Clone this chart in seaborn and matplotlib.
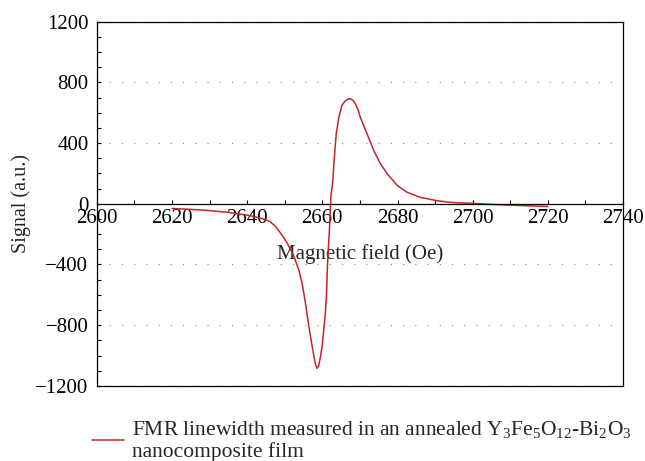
import matplotlib
matplotlib.use("Agg")
import matplotlib.pyplot as plt
from matplotlib.ticker import MultipleLocator
import seaborn as sns
import pandas as pd

# ---- data ----
field = [2620, 2625, 2630, 2635, 2640, 2642, 2644, 2646, 2647.5, 2648.8,
         2650.6, 2652.4, 2653.7, 2654.6, 2655.5, 2656.4, 2657.3, 2657.8,
         2658.2, 2658.6, 2659.0, 2659.5, 2660.0, 2660.4, 2660.8, 2661.1,
         2661.4, 2661.9, 2662.3, 2662.8, 2663.2, 2663.7, 2664.4, 2665.2,
         2666.0, 2666.8, 2667.5, 2668.2, 2668.8, 2669.5, 2670.1, 2671.0,
         2671.9, 2673.7, 2675.5, 2677.3, 2680, 2682.6, 2686.1, 2690.6,
         2694.1, 2700.4, 2705, 2710.1, 2715, 2720]
signal = [-31, -37, -45, -57, -75, -85, -98, -116, -148, -190,
          -256, -344, -432, -520, -652, -806, -939, -1010,
          -1060, -1085, -1070, -1010, -930, -828, -720, -608,
          -388, -167, 53, 152, 306, 461, 570, 648,
          675, 690, 692, 680, 659, 620, 570, 515,
          461, 350, 262, 196, 119, 75, 42, 20,
          9, 2, -4, -9, -14, -18]
legend_label = ("FMR linewidth measured in an annealed "
                "Y$_3$Fe$_5$O$_{12}$-Bi$_2$O$_3$\nnanocomposite film")
x_label = "Magnetic field (Oe)"
y_label = "Signal (a.u.)"
x_limits = (2600, 2740)
y_limits = (-1200, 1200)

df = pd.DataFrame({"field": field, "signal": signal})

sns.set_style("ticks")
plt.rcParams["font.family"] = ["Liberation Serif", "DejaVu Serif"]
plt.rcParams["mathtext.fontset"] = "custom"
plt.rcParams["mathtext.rm"] = "Liberation Serif"
plt.rcParams["mathtext.it"] = "Liberation Serif:italic"

fig = plt.figure(figsize=(6.45, 4.61), dpi=100)
ax = fig.add_axes([0.150, 0.163, 0.816, 0.790])

sns.lineplot(data=df, x="field", y="signal", ax=ax, color="#c1272d",
             linewidth=1.1, sort=False, label=legend_label, legend=False)

ax.set_xlim(*x_limits)
ax.set_ylim(*y_limits)
ax.xaxis.set_major_locator(MultipleLocator(20))
ax.xaxis.set_minor_locator(MultipleLocator(10))
ax.yaxis.set_major_locator(MultipleLocator(400))
ax.yaxis.set_minor_locator(MultipleLocator(100))

for s in ax.spines.values():
    s.set_linewidth(0.9)
    s.set_color("black")
ax.spines["bottom"].set_position(("data", 0))
ax.axhline(y_limits[0], color="black", lw=0.9, clip_on=False, zorder=5)

ax.tick_params(which="both", direction="in", length=3, width=0.8,
               top=False, right=False, labelsize=15, colors="black")
ax.tick_params(axis="x", pad=4)
ax.tick_params(axis="y", pad=6)

ax.grid(axis="y", which="major", color="#888888", linewidth=0.8,
        linestyle=(0, (1, 10)))
ax.grid(axis="x", visible=False)

ax.set_xlabel(x_label, fontsize=15)
ax.set_ylabel(y_label, fontsize=14.5)
ax.xaxis.set_label_coords(0.5, 0.39)
ax.yaxis.set_label_coords(-0.125, 0.5)

h, l = ax.get_legend_handles_labels()
fig.legend(h, l, loc="upper left", bbox_to_anchor=(0.142, 0.092),
           frameon=False, fontsize=15.5, handlelength=1.5,
           handletextpad=0.4, borderaxespad=0, borderpad=0,
           labelspacing=0.2)

fig.savefig("out.png", dpi=100)
